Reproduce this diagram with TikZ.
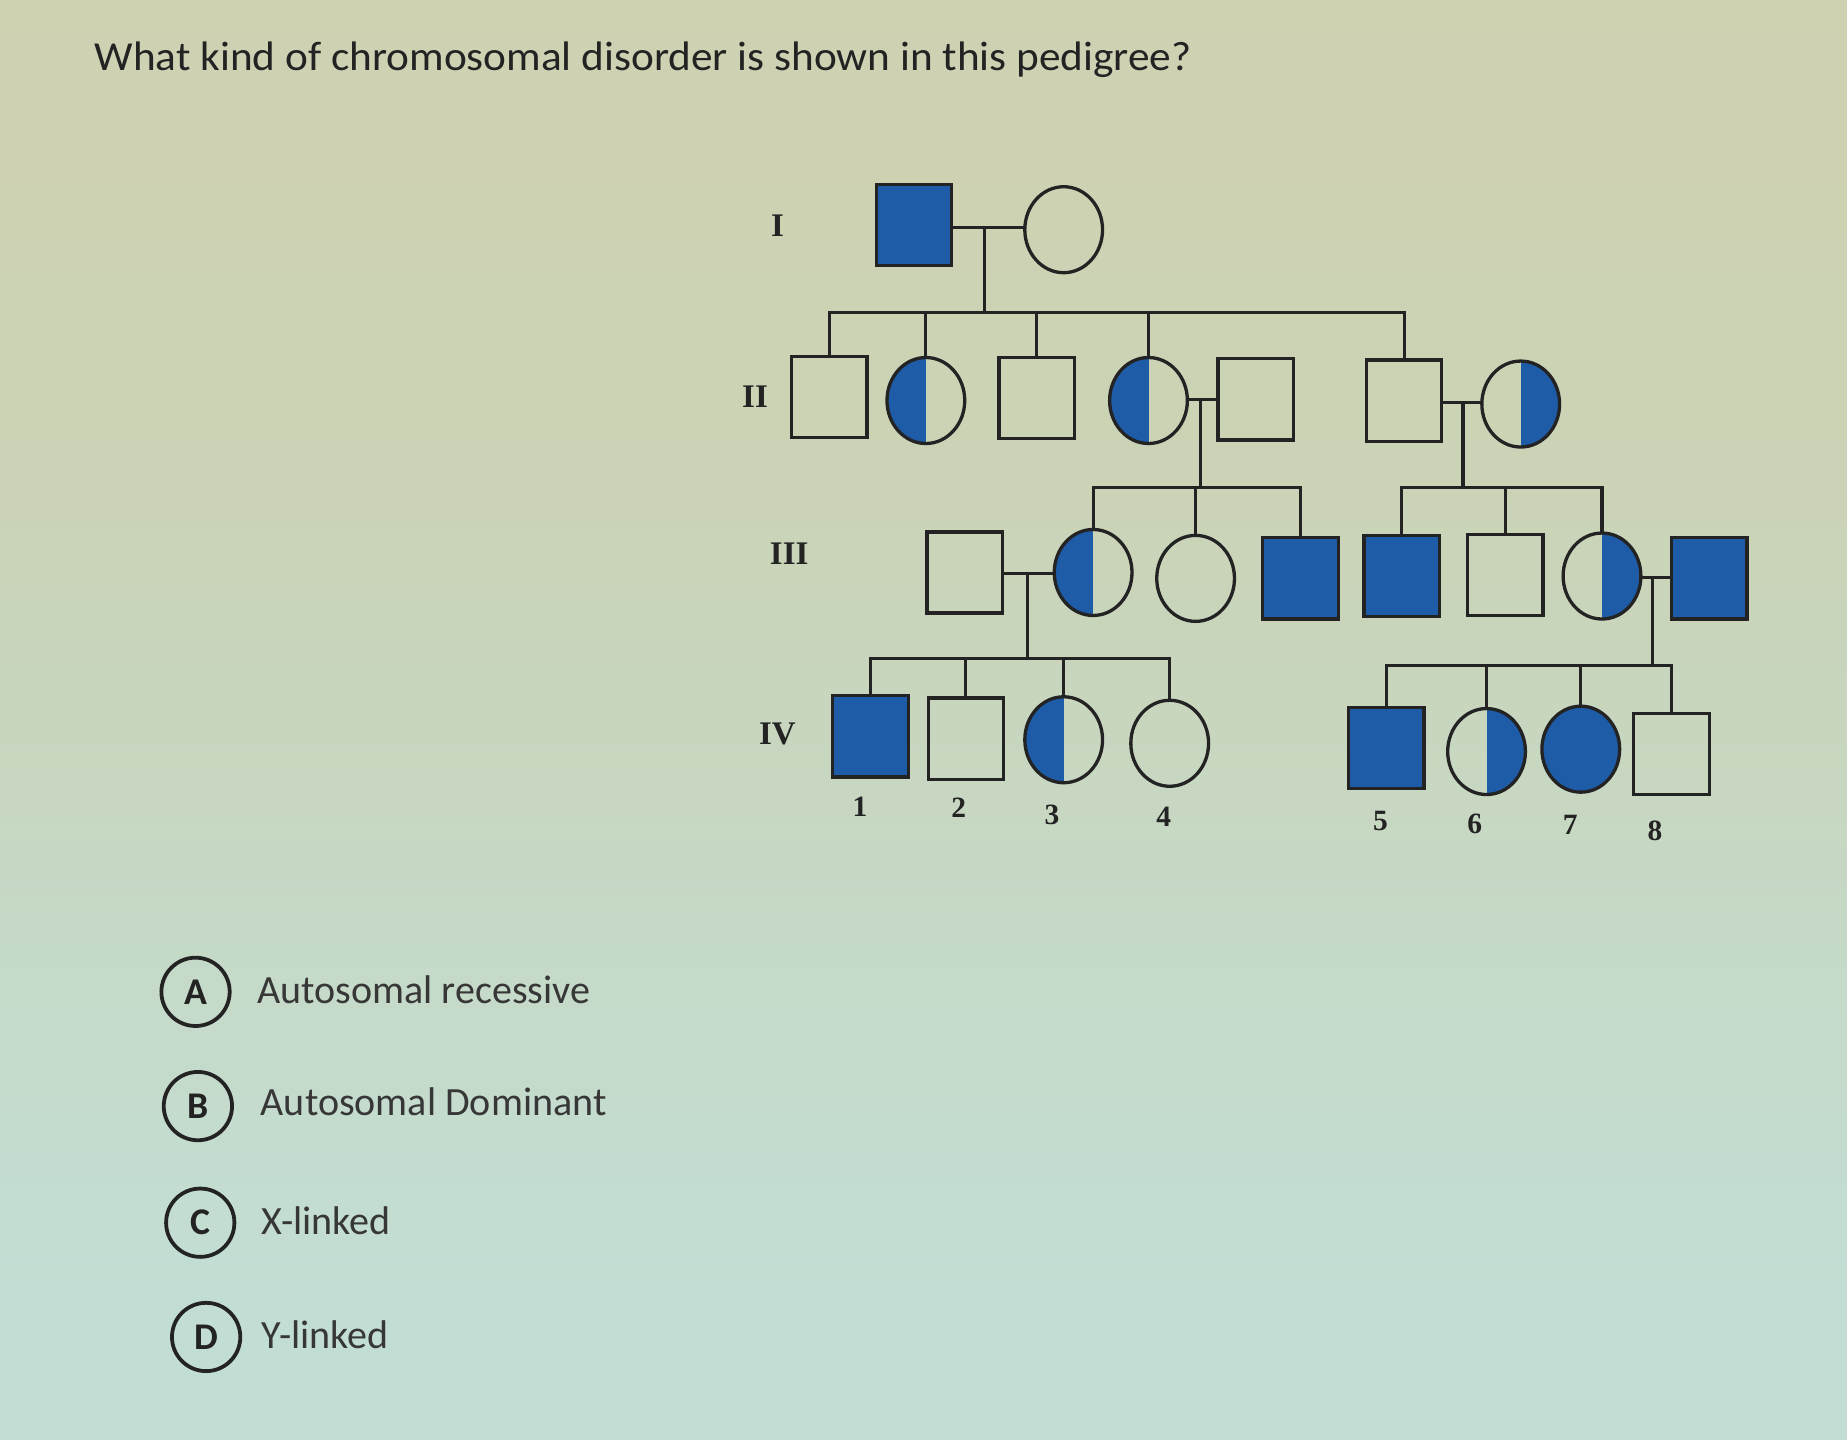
\documentclass[tikz,border=0pt]{standalone}
\usepackage{fontspec}
\setmainfont{Carlito}
\newfontfamily\serifb{Liberation Serif}
\usetikzlibrary{shapes.geometric}
\definecolor{pblue}{RGB}{30,92,168}
\definecolor{ink}{RGB}{35,35,35}
\definecolor{txt}{RGB}{55,55,55}
\definecolor{bgtop}{RGB}{216,207,170}
\definecolor{bgmid}{RGB}{202,211,182}
\definecolor{bgbot}{RGB}{194,222,212}
\pgfdeclareverticalshading{bgshade}{100bp}{color(0bp)=(bgbot); color(30bp)=(bgbot); color(58bp)=(bgmid); color(100bp)=(bgtop)}
\tikzset{
  sym/.style={draw=ink, line width=1.4pt, inner sep=0pt, outer sep=0pt},
  sq/.style={sym, rectangle, minimum width=32pt, minimum height=34.5pt},
  ci/.style={sym, ellipse, minimum width=33pt, minimum height=36.5pt},
  aff/.style={fill=pblue},
  halfL/.style={path picture={\fill[pblue] (path picture bounding box.south west) rectangle (path picture bounding box.north);}},
  halfR/.style={path picture={\fill[pblue] (path picture bounding box.south) rectangle (path picture bounding box.north east);}},
  conn/.style={draw=ink, line width=1.3pt},
  gen/.style={font=\serifb\bfseries\fontsize{14}{16}\selectfont, text=ink, inner sep=0pt},
  num/.style={font=\serifb\bfseries\fontsize{12.5}{14}\selectfont, text=ink, inner sep=0pt},
  optc/.style={circle, draw=ink, line width=1.6pt, minimum size=29pt, inner sep=0pt, font=\bfseries\fontsize{16}{18}\selectfont, text=ink},
  optt/.style={anchor=base west, inner sep=0pt, font=\fontsize{17}{20}\selectfont, text=txt}
}
\begin{document}
\begin{tikzpicture}[x=0.5pt,y=-0.5pt]
\useasboundingbox (0,0) rectangle (1568,1222);
\shade[shading=bgshade] (0,0) rectangle (1568,1222);

% title
\node[anchor=base west, inner sep=0pt, font=\fontsize{17.5}{20}\selectfont, text=ink, xscale=1.05] (title) at (80,60) {What kind of chromosomal disorder is shown in this pedigree?};

% generation labels
\node[gen] (gI) at (660,192) {I};
\node[gen] (gII) at (641,337) {II};
\node[gen] (gIII) at (670,470) {III};
\node[gen] (gIV) at (660,623) {IV};

% Generation I
\node[sq, aff] (I1) at (776,191) {};
\node[ci] (I2) at (903,195) {};

% Generation II
\node[sq] (II1) at (704,337) {};
\node[ci, halfL] (II2) at (786,340) {};
\node[sq] (II3) at (880,338) {};
\node[ci, halfL] (II4) at (975,340) {};
\node[sq] (II5) at (1066,339) {};
\node[sq] (II6) at (1192,340) {};
\node[ci, halfR] (II7) at (1291,343) {};

% Generation III
\node[sq] (III1) at (819,486) {};
\node[ci, halfL] (III2) at (928,486) {};
\node[ci] (III3) at (1015,491) {};
\node[sq, aff] (III4) at (1104,491) {};
\node[sq, aff] (III5) at (1190,489) {};
\node[sq] (III6) at (1278,488) {};
\node[ci, halfR] (III7) at (1360,489) {};
\node[sq, aff] (III8) at (1451,491) {};

% Generation IV
\node[sq, aff] (IV1) at (739,625) {};
\node[sq] (IV2) at (820,627) {};
\node[ci, halfL] (IV3) at (903,628) {};
\node[ci] (IV4) at (993,631) {};
\node[sq, aff] (IV5) at (1177,635) {};
\node[ci, halfR] (IV6) at (1262,638) {};
\node[ci, aff] (IV7) at (1342,636) {};
\node[sq] (IV8) at (1419,640) {};

% numbers
\node[num] (n1) at (730,685) {1};
\node[num] (n2) at (814,686) {2};
\node[num] (n3) at (893,692) {3};
\node[num] (n4) at (988,693) {4};
\node[num] (n5) at (1172,697) {5};
\node[num] (n6) at (1252,699) {6};
\node[num] (n7) at (1333,700) {7};
\node[num] (n8) at (1405,705) {8};

% coordinates
\coordinate (m1) at (836,193);
\coordinate (s1) at (836,265);
\coordinate (m2) at (1019,339);
\coordinate (s2) at (1019,414);
\coordinate (m3) at (1242,342);
\coordinate (s3) at (1242,414);
\coordinate (m4) at (872,487);
\coordinate (s4) at (872,559);
\coordinate (m5) at (1403,490);
\coordinate (s5) at (1403,565);

% connectors gen I -> II
\draw[conn] (I1.east |- m1) -- (I2.west |- m1);
\draw[conn] (m1) -- (s1);
\draw[conn] (II1.north) |- (s1) -| (II6.north);
\foreach \n in {II2,II3,II4} \draw[conn] (\n.north) -- (\n.north |- s1);

% II4 x II5
\draw[conn] (II4.east |- m2) -- (II5.west |- m2);
\draw[conn] (m2) -- (s2);
\draw[conn] (III2.north) |- (s2) -| (III4.north);
\draw[conn] (III3.north) -- (III3.north |- s2);

% II6 x II7
\draw[conn] (II6.east |- m3) -- (II7.west |- m3);
\draw[conn] (m3) -- (s3);
\draw[conn] (III5.north) |- (s3) -| (III7.north);
\draw[conn] (III6.north) -- (III6.north |- s3);

% III1 x III2
\draw[conn] (III1.east |- m4) -- (III2.west |- m4);
\draw[conn] (m4) -- (s4);
\draw[conn] (IV1.north) |- (s4) -| (IV4.north);
\foreach \n in {IV2,IV3} \draw[conn] (\n.north) -- (\n.north |- s4);

% III7 x III8
\draw[conn] (III7.east |- m5) -- (III8.west |- m5);
\draw[conn] (m5) -- (s5);
\draw[conn] (IV5.north) |- (s5) -| (IV8.north);
\foreach \n in {IV6,IV7} \draw[conn] (\n.north) -- (\n.north |- s5);

% options
\node[optc] (cA) at (166,842) {A};
\node[optt] (tA) at (218,852) {Autosomal recessive};
\node[optc] (cB) at (168,939) {B};
\node[optt] (tB) at (221,947) {Autosomal Dominant};
\node[optc] (cC) at (170,1038) {C};
\node[optt] (tC) at (222,1048) {X-linked};
\node[optc] (cD) at (175,1135) {D};
\node[optt] (tD) at (222,1145) {Y-linked};
\end{tikzpicture}
\end{document}
